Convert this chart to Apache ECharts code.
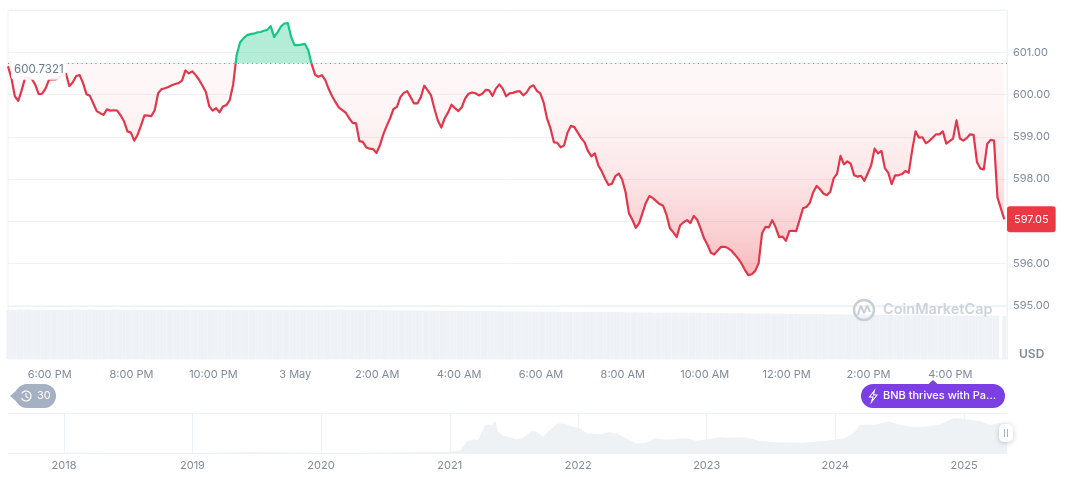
<!DOCTYPE html>
<html>
<head>
<meta charset="utf-8">
<style>
  html, body { margin: 0; padding: 0; background: #fff; }
  #chart { width: 1072px; height: 477px; }
</style>
</head>
<body>
<div id="chart"></div>
<script src="https://cdn.jsdelivr.net/npm/echarts@6/dist/echarts.min.js"></script>
<script>
const startTime = new Date(2025, 4, 2, 16, 59).getTime();
const stepMs = 5 * 60 * 1000;
const baseline = 600.7321;
const lastPrice = 597.05;

// 5 minute closes
const prices = [
  600.67,600.39,599.96,599.85,600.10,600.39,600.40,600.37,600.23,600.01,
  600.02,600.14,600.35,600.36,600.36,600.41,600.46,600.49,600.20,600.29,
  600.44,600.46,600.27,600.01,599.97,599.79,599.61,599.56,599.52,599.65,
  599.62,599.63,599.62,599.51,599.37,599.13,599.10,598.91,599.05,599.27,
  599.51,599.50,599.49,599.63,600.03,600.13,600.15,600.18,600.22,600.25,
  600.27,600.33,600.57,600.50,600.55,600.46,600.35,600.21,600.06,599.72,
  599.62,599.68,599.58,599.72,599.75,599.87,600.24,600.93,601.23,601.33,
  601.40,601.43,601.44,601.47,601.48,601.51,601.53,601.62,601.36,601.47,
  601.61,601.68,601.69,601.36,601.17,601.17,601.18,601.20,601.05,600.72,
  600.47,600.42,600.46,600.34,600.13,599.96,599.82,599.69,599.63,599.57,
  599.44,599.33,599.32,598.90,598.88,598.75,598.72,598.71,598.62,598.80,
  599.06,599.26,599.44,599.66,599.71,599.94,600.04,600.08,599.94,599.79,
  599.79,599.94,600.21,600.10,599.98,599.66,599.38,599.22,599.44,599.58,
  599.76,599.68,599.61,599.70,599.91,600.02,600.05,600.03,599.98,600.02,
  600.11,600.10,599.97,600.14,600.24,600.14,599.96,600.03,600.04,600.07,
  600.08,599.98,600.05,600.18,600.22,600.09,600.03,599.81,599.43,599.20,
  598.87,598.86,598.75,598.80,599.10,599.26,599.23,599.10,598.97,598.87,
  598.66,598.54,598.61,598.33,598.19,598.01,597.86,597.89,598.07,598.13,
  597.99,597.69,597.19,597.04,596.85,596.96,597.21,597.45,597.60,597.55,
  597.48,597.41,597.37,597.16,596.84,596.74,596.63,596.91,596.98,597.03,
  596.96,597.13,597.04,596.83,596.60,596.45,596.26,596.22,596.31,596.40,
  596.40,596.37,596.31,596.22,596.12,596.00,595.85,595.73,595.75,595.83,
  596.01,596.72,596.87,596.86,597.03,596.86,596.63,596.64,596.54,596.77,
  596.78,596.77,597.03,597.31,597.34,597.44,597.69,597.84,597.76,597.66,
  597.62,597.70,598.02,598.13,598.55,598.35,598.42,598.36,598.09,598.06,
  598.08,597.96,598.14,598.33,598.72,598.61,598.67,598.26,598.15,597.88,
  598.09,598.09,598.12,598.19,598.15,598.68,599.13,598.98,598.99,598.85,
  598.90,598.98,599.06,599.06,599.13,598.84,598.90,598.96,599.39,598.96,
  598.91,598.97,599.06,599.05,598.40,598.25,598.23,598.83,598.93,598.91,
  597.57,597.31,597.05
];

// volume strip, relative heights
const volumes = [
  48.0,48.3,48.2,48.5,48.4,48.2,48.6,48.3,48.2,48.4,48.5,48.2,48.3,48.4,48.2,48.5,48.3,48.2,48.4,48.3,
  48.5,48.4,48.2,48.3,48.6,48.3,48.2,48.4,48.3,48.2,48.4,48.5,48.3,48.2,48.4,48.3,48.2,48.5,48.3,48.4,
  48.2,48.3,48.4,48.2,48.3,48.5,48.3,48.2,48.4,48.3,48.2,48.3,48.4,48.2,48.3,48.2,48.4,48.3,48.2,48.3,
  48.4,48.2,48.3,48.2,48.3,48.4,48.2,48.3,48.2,48.3,48.2,48.4,48.2,48.3,48.2,48.3,48.2,48.3,48.4,48.2,
  48.3,48.2,48.3,48.2,48.4,48.3,48.2,48.3,48.2,48.1,48.3,48.2,48.1,48.3,48.2,48.4,48.2,48.5,48.3,48.1,
  48.2,48.0,48.1,48.2,48.0,47.9,48.1,47.9,48.0,47.8,47.9,47.7,47.9,47.6,47.7,47.6,47.8,47.5,47.6,47.7,
  47.4,47.5,47.6,47.3,47.4,47.3,47.5,47.2,47.3,47.4,47.1,47.2,47.1,47.2,47.0,47.1,47.0,46.9,47.1,46.9,
  47.0,46.8,46.9,46.8,47.0,46.7,46.8,46.7,46.9,46.6,46.7,46.6,46.8,46.5,46.6,46.5,46.7,46.4,46.5,46.4,
  46.6,46.3,46.4,46.3,46.5,46.2,46.3,46.2,46.4,46.1,46.2,46.1,46.3,46.0,46.1,46.0,46.2,45.9,46.0,45.9,
  46.1,45.8,45.9,45.8,46.0,45.7,45.8,45.7,45.9,45.6,45.7,45.6,45.8,45.5,45.6,45.5,45.7,45.4,45.5,45.4,
  45.3,45.4,45.2,45.3,45.1,45.2,45.0,45.2,44.9,45.0,44.9,45.1,44.8,44.9,44.8,45.0,44.7,44.8,44.6,44.8,
  44.5,44.6,44.5,44.7,44.4,44.5,44.3,44.5,44.2,44.3,44.2,44.4,44.1,44.2,44.0,44.2,43.9,44.0,43.9,44.1,
  43.8,43.9,43.8,44.0,43.7,43.8,43.6,43.8,43.5,43.6,43.5,43.7,43.4,43.5,43.3,43.5,43.2,43.3,43.2,43.4,
  43.1,43.2,43.0,43.2,42.9,43.0,42.9,43.1,42.8,42.9,42.7,42.9,42.8,42.7,42.9,42.6,42.7,42.6,42.8,42.6,
  42.6,42.7,42.5,42.6,42.7,42.5,42.6,42.5,42.6,42.5,
  42.5,null,42.4
];

const hourTickOffsets = [61, 181, 301, 421, 541, 661, 781, 901, 1021, 1141, 1261, 1381];
const hourTickLabels = ['6:00 PM','8:00 PM','10:00 PM','3 May','2:00 AM','4:00 AM','6:00 AM','8:00 AM','10:00 AM','12:00 PM','2:00 PM','4:00 PM'];

// overview strip, USD
const overviewDates = [
  '2017-07-26','2017-12-01','2018-01-10','2018-06-15','2019-01-01','2019-06-20','2019-12-15','2020-03-15','2020-08-20','2021-01-01',
  '2021-01-31','2021-02-17','2021-03-10','2021-03-22','2021-04-10','2021-04-18','2021-05-01','2021-05-10','2021-05-18','2021-06-01',
  '2021-06-15','2021-07-10','2021-07-28','2021-08-22','2021-09-05','2021-09-23','2021-10-07','2021-11-04','2021-11-24','2021-12-16',
  '2022-01-05','2022-01-25','2022-02-10','2022-03-01','2022-03-30','2022-04-22','2022-05-17','2022-06-15','2022-07-13','2022-08-05',
  '2022-09-08','2022-11-03','2022-12-02','2023-01-11','2023-02-08','2023-03-05','2023-04-19','2023-06-06','2023-07-23','2023-09-27',
  '2023-11-22','2023-12-27','2024-01-29','2024-02-26','2024-03-11','2024-04-24','2024-06-01','2024-06-30','2024-08-06','2024-09-11',
  '2024-10-22','2024-12-03','2025-01-15','2025-02-14','2025-03-15','2025-04-10','2025-05-03'
];
const overviewPrices = [
  1,3,20,12,6,32,14,12,25,35,
  60,230,280,255,550,580,560,650,430,350,
  330,280,310,450,430,330,430,600,590,530,
  500,400,390,380,420,390,300,200,210,300,
  270,300,250,290,320,310,320,240,220,210,
  240,270,300,430,570,570,630,570,530,530,
  570,700,670,640,570,600,595
];
const overviewYears = [2018, 2019, 2020, 2021, 2022, 2023, 2024, 2025];

const mainTop = 10, mainBottom = 306, yMax = 602, yMin = 595;
const basePx = mainTop + (yMax - baseline) / (yMax - yMin) * (mainBottom - mainTop);
const frac = basePx / 300;

// hard switch from green to red at the opening price, in canvas pixels
const lineColor = {
  type: 'linear', global: true, x: 0, y: 0, x2: 0, y2: 300,
  colorStops: [
    { offset: 0, color: '#16c784' }, { offset: frac, color: '#16c784' },
    { offset: frac, color: '#e2374a' }, { offset: 1, color: '#e2374a' }
  ]
};
const areaColor = {
  type: 'linear', global: true, x: 0, y: 0, x2: 0, y2: 300,
  colorStops: [
    { offset: 0, color: 'rgba(22,199,132,0.32)' }, { offset: frac, color: 'rgba(22,199,132,0.32)' },
    { offset: frac, color: 'rgba(234,57,67,0.04)' },
    { offset: 110 / 300, color: 'rgba(234,57,67,0.05)' },
    { offset: 175 / 300, color: 'rgba(234,57,67,0.12)' },
    { offset: 240 / 300, color: 'rgba(234,57,67,0.25)' },
    { offset: 1, color: 'rgba(234,57,67,0.42)' }
  ]
};

const axisGrey = '#808a9d';
const gridGrey = '#eff2f5';
const fontName = 'Inter';
const endTime = startTime + (prices.length - 1) * stepMs + 4 * 60 * 1000;
const labelByTime = {};
const hourTicks = hourTickOffsets.map((m, i) => {
  const t = startTime + m * 60 * 1000;
  labelByTime[t] = hourTickLabels[i];
  return t;
});
const yearTicks = overviewYears.map(y => new Date(y, 0, 1).getTime());

const chart = echarts.init(document.getElementById('chart'));
chart.setOption({
  animation: false,
  textStyle: { fontFamily: fontName },
  grid: [
    { left: 8, right: 65, top: mainTop, height: mainBottom - mainTop, show: true, borderColor: gridGrey, borderWidth: 1 },
    { left: 8, right: 65, top: mainBottom, height: 53, show: true, borderColor: gridGrey, borderWidth: 1 },
    { left: 8, right: 65, top: 413, height: 40.5 }
  ],
  xAxis: [
    { type: 'value', gridIndex: 0, min: startTime, max: endTime, show: false },
    {
      type: 'value', gridIndex: 1, min: startTime, max: endTime,
      axisLine: { show: false }, axisTick: { show: false }, splitLine: { show: false },
      axisLabel: {
        customValues: hourTicks, margin: 10, color: axisGrey, fontSize: 11, fontFamily: fontName,
        hideOverlap: false,
        formatter: v => labelByTime[v] || ''
      }
    },
    {
      type: 'value', gridIndex: 2,
      min: new Date(overviewDates[0]).getTime(), max: new Date(overviewDates[overviewDates.length - 1]).getTime(),
      axisLine: { lineStyle: { color: gridGrey } }, axisTick: { show: false },
      splitLine: { show: false },
      axisLabel: {
        customValues: yearTicks, margin: 7, color: axisGrey, fontSize: 11, fontFamily: fontName,
        formatter: v => String(new Date(v).getFullYear())
      }
    }
  ],
  yAxis: [
    {
      type: 'value', gridIndex: 0, position: 'right', min: yMin, max: yMax, interval: 1,
      axisLine: { show: true, lineStyle: { color: gridGrey } }, axisTick: { show: false },
      splitLine: { lineStyle: { color: gridGrey } },
      axisLabel: {
        margin: 6, color: axisGrey, fontSize: 11, fontFamily: fontName,
        showMaxLabel: false, formatter: v => v.toFixed(2)
      }
    },
    {
      type: 'value', gridIndex: 1, position: 'right', min: 0, max: 52,
      axisLine: { show: true, lineStyle: { color: gridGrey } }, axisTick: { show: false },
      splitLine: { show: false }, axisLabel: { show: false }
    },
    {
      type: 'value', gridIndex: 2, min: 0, max: 800, interval: 800,
      axisLine: { show: false }, axisTick: { show: false },
      splitLine: { lineStyle: { color: gridGrey } }, axisLabel: { show: false }
    }
  ],
  series: [
    {
      name: 'Price', type: 'line', xAxisIndex: 0, yAxisIndex: 0, showSymbol: false,
      data: prices.map((p, i) => [startTime + i * stepMs, p]),
      lineStyle: { color: lineColor, width: 2.2, join: 'round' },
      areaStyle: { color: areaColor, origin: baseline, opacity: 1 },
      markLine: {
        silent: true, symbol: ['none', 'none'], animation: false, z: 10,
        data: [
          {
            yAxis: baseline,
            lineStyle: { color: '#808a9d', type: [1, 3.6], width: 1 },
            label: {
              position: 'insideStartBottom', distance: 0, offset: [3, -4],
              formatter: () => baseline.toFixed(4),
              color: '#6a7a91', fontSize: 11.5, fontFamily: fontName,
              backgroundColor: 'rgba(255,255,255,0.92)', padding: [4, 2, 4, 3], borderRadius: 4
            }
          },
          {
            yAxis: lastPrice,
            lineStyle: { color: 'rgba(0,0,0,0)', width: 0 },
            label: {
              position: 'end', distance: 0,
              formatter: () => lastPrice.toFixed(2),
              color: '#fff', fontSize: 11, fontFamily: fontName,
              backgroundColor: '#ea3943', padding: [8, 7, 7, 7], borderRadius: 3
            }
          }
        ]
      }
    },
    {
      name: 'Volume', type: 'bar', xAxisIndex: 1, yAxisIndex: 1, barWidth: 3.4,
      data: volumes.map((v, i) => [startTime + i * stepMs, v]),
      itemStyle: { color: '#eef1f5' }
    },
    {
      name: 'Overview', type: 'line', xAxisIndex: 2, yAxisIndex: 2, showSymbol: false,
      data: overviewDates.map((d, i) => [new Date(d).getTime(), overviewPrices[i]]),
      lineStyle: { width: 0 }, areaStyle: { color: '#eff2f5', opacity: 1 },
      markLine: {
        silent: true, symbol: ['none', 'none'], animation: false, label: { show: false },
        lineStyle: { color: gridGrey, type: 'solid', width: 1 },
        data: yearTicks.map(t => ({ xAxis: t }))
      }
    }
  ],
  graphic: [
    // watermark
    { type: 'circle', z: 50, shape: { cx: 864, cy: 310, r: 10 }, style: { fill: 'none', stroke: '#c6ced8', lineWidth: 2.4 } },
    { type: 'polyline', z: 50, shape: { points: [[858, 315], [861, 306], [864, 313], [867, 306], [870, 312]], smooth: 0.2 }, style: { fill: 'none', stroke: '#c6ced8', lineWidth: 2 } },
    { type: 'text', z: 50, x: 883, y: 302, style: { text: 'CoinMarketCap', fill: '#ccd3dc', font: '600 14.5px Inter' } },
    { type: 'text', z: 50, x: 1019, y: 348, style: { text: 'USD', fill: axisGrey, font: '600 12px Inter' } },
    // 30 badge
    { type: 'rect', z: 50, shape: { x: 15, y: 384, width: 41, height: 24, r: 12 }, style: { fill: '#a6b0c3' } },
    { type: 'polygon', z: 50, shape: { points: [[10, 396], [17, 390], [17, 402]] }, style: { fill: '#a6b0c3' } },
    { type: 'arc', z: 51, shape: { cx: 26, cy: 396, r: 5, startAngle: -2.6, endAngle: 2.7 }, style: { fill: 'none', stroke: '#fff', lineWidth: 1.2 } },
    { type: 'polyline', z: 51, shape: { points: [[26, 393], [26, 396.5], [28.5, 398]] }, style: { fill: 'none', stroke: '#fff', lineWidth: 1.1 } },
    { type: 'text', z: 51, x: 37, y: 390, style: { text: '30', fill: '#fff', font: '11px Inter' } },
    // news badge
    { type: 'rect', z: 50, shape: { x: 861, y: 384, width: 144, height: 24, r: 12 }, style: { fill: '#7b3fe4' } },
    { type: 'polygon', z: 50, shape: { points: [[928, 384.5], [933, 380], [938, 384.5]] }, style: { fill: '#7b3fe4' } },
    { type: 'polygon', z: 51, shape: { points: [[874.5, 390.5], [869.5, 397], [873, 397], [871.5, 402], [877, 395], [873.5, 395]] }, style: { fill: 'none', stroke: '#fff', lineWidth: 1.1 } },
    { type: 'text', z: 51, x: 883, y: 390, style: { text: 'BNB thrives with Pa...', fill: '#fff', font: '500 11px Inter' } },
    // range handle
    { type: 'rect', z: 50, shape: { x: 999, y: 424, width: 14, height: 18, r: 5 }, style: { fill: '#fff', shadowBlur: 5, shadowColor: 'rgba(88,102,126,0.35)', shadowOffsetY: 1 } },
    { type: 'line', z: 51, shape: { x1: 1004.5, y1: 429, x2: 1004.5, y2: 437 }, style: { stroke: '#a6b0c3', lineWidth: 1 } },
    { type: 'line', z: 51, shape: { x1: 1007.5, y1: 429, x2: 1007.5, y2: 437 }, style: { stroke: '#a6b0c3', lineWidth: 1 } }
  ]
});
</script>
</body>
</html>
